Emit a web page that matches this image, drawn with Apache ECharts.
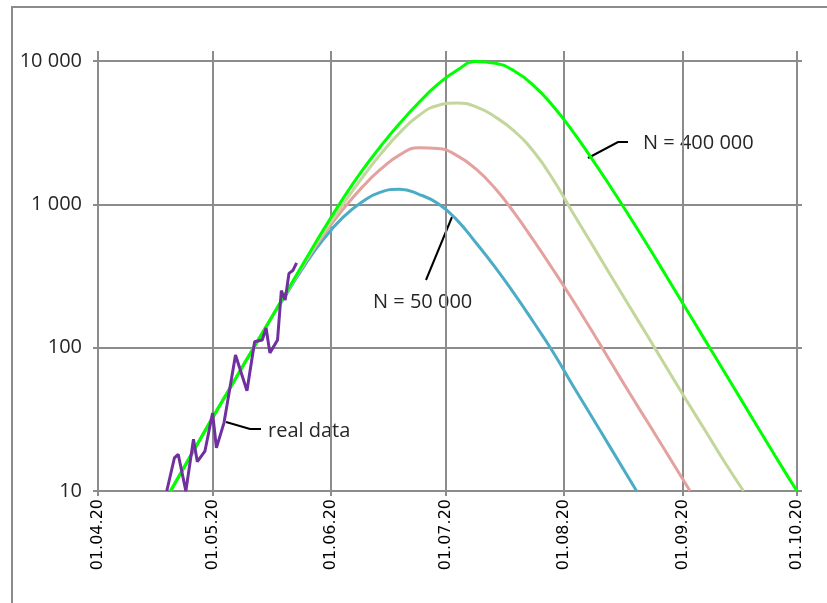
<!DOCTYPE html>
<html>
<head>
<meta charset="utf-8">
<script src="https://cdn.jsdelivr.net/npm/echarts@6/dist/echarts.min.js"></script>
<style>
    html, body { margin: 0; padding: 0; background: #fff; }
    #chart { width: 827px; height: 603px; }
</style>
</head>
<body>
<div id="chart"></div>
<script>
    // model curves, values (every 5 days)
    const greenDates = ['2020-04-20', '2020-04-25', '2020-04-30', '2020-05-05', '2020-05-10', '2020-05-15', '2020-05-20', '2020-05-25', '2020-05-30', '2020-06-04', '2020-06-09', '2020-06-14', '2020-06-19', '2020-06-24', '2020-06-29', '2020-07-04', '2020-07-09', '2020-07-14', '2020-07-19', '2020-07-24', '2020-07-29', '2020-08-03', '2020-08-08', '2020-08-13', '2020-08-18', '2020-08-23', '2020-08-28', '2020-09-02', '2020-09-07', '2020-09-12', '2020-09-17', '2020-09-22', '2020-09-27', '2020-10-01'];
    const greenValues = [10, 17.1, 29.2, 49.3, 83.2, 140, 236, 397, 664, 1084, 1698, 2541, 3673, 5129, 6887, 8610, 9930, 9660, 8510, 6761, 4898, 3311, 2138, 1349, 836, 512, 309, 186, 112, 67.6, 40.7, 24.5, 14.8, 10];

    const paleDates = ['2020-04-20', '2020-04-25', '2020-04-30', '2020-05-05', '2020-05-10', '2020-05-15', '2020-05-20', '2020-05-25', '2020-05-30', '2020-06-04', '2020-06-09', '2020-06-14', '2020-06-19', '2020-06-24', '2020-06-29', '2020-07-04', '2020-07-09', '2020-07-14', '2020-07-19', '2020-07-24', '2020-07-29', '2020-08-03', '2020-08-08', '2020-08-13', '2020-08-18', '2020-08-23', '2020-08-28', '2020-09-02', '2020-09-07', '2020-09-12', '2020-09-17'];
    const paleValues = [10, 17.1, 29.2, 49.3, 83.2, 140, 235, 389, 631, 989, 1514, 2239, 3162, 4169, 4898, 5093, 4786, 4074, 3236, 2344, 1514, 902, 543, 327, 197, 119, 71.6, 43.2, 26.3, 16, 10];

    const pinkDates = ['2020-04-20', '2020-04-25', '2020-04-30', '2020-05-05', '2020-05-10', '2020-05-15', '2020-05-20', '2020-05-25', '2020-05-30', '2020-06-04', '2020-06-09', '2020-06-14', '2020-06-19', '2020-06-24', '2020-06-29', '2020-07-04', '2020-07-09', '2020-07-14', '2020-07-19', '2020-07-24', '2020-07-29', '2020-08-03', '2020-08-08', '2020-08-13', '2020-08-18', '2020-08-23', '2020-08-28', '2020-09-03'];
    const pinkValues = [10, 17.1, 29.2, 49.3, 83.2, 140, 234, 385, 610, 912, 1303, 1758, 2213, 2483, 2455, 2188, 1758, 1288, 871, 562, 355, 221, 135, 81.3, 49, 29.9, 18.2, 10];

    const blueDates = ['2020-04-20', '2020-04-25', '2020-04-30', '2020-05-05', '2020-05-10', '2020-05-15', '2020-05-20', '2020-05-25', '2020-05-30', '2020-06-04', '2020-06-09', '2020-06-14', '2020-06-19', '2020-06-24', '2020-06-29', '2020-07-04', '2020-07-09', '2020-07-14', '2020-07-19', '2020-07-24', '2020-07-29', '2020-08-03', '2020-08-08', '2020-08-13', '2020-08-20'];
    const blueValues = [10, 17.1, 29.2, 49.3, 83.2, 140, 229, 372, 569, 804, 1035, 1216, 1274, 1175, 1012, 776, 537, 363, 237, 151, 94.4, 56.2, 33.9, 20.4, 10];

    // real data (purple)
    const realDates = ['2020-04-19', '2020-04-21', '2020-04-22', '2020-04-24', '2020-04-26', '2020-04-27', '2020-04-29', '2020-05-01', '2020-05-02', '2020-05-04', '2020-05-07', '2020-05-10', '2020-05-12', '2020-05-14', '2020-05-15', '2020-05-16', '2020-05-18', '2020-05-19', '2020-05-20', '2020-05-21', '2020-05-22', '2020-05-23'];
    const realValues = [10, 17, 18, 10, 23, 16, 19, 35, 20, 30, 89, 50, 110, 113, 137, 92, 113, 250, 215, 330, 345, 390];

    const yTicks = [10, 100, 1000, 10000];

    const gridColor = '#8c8c8c';

    function pairs(dates, values) {
        let result = [];
        for (let i = 0; i < dates.length; i++) {
            result.push([dates[i], values[i]]);
        }
        return result;
    }

    function pad(n) {
        return n < 10 ? '0' + n : '' + n;
    }

    // 10000 -> "10 000"
    function spaced(v) {
        return String(Math.round(v)).replace(/\B(?=(\d{3})+(?!\d))/g, ' ');
    }

    let chart = echarts.init(document.getElementById('chart'));
    chart.setOption({
        animation: false,
        grid: {left: 98, right: 30, top: 61, bottom: 112},
        xAxis: [
            {
                type: 'time',
                min: '2020-04-01',
                max: '2020-10-01',
                splitNumber: 6,
                minInterval: 28 * 24 * 3600 * 1000,
                maxInterval: 31 * 24 * 3600 * 1000,
                axisLine: {show: true, lineStyle: {color: gridColor, width: 2}},
                axisTick: {show: true, length: 5, lineStyle: {color: gridColor, width: 2}},
                splitLine: {show: true, lineStyle: {color: gridColor, width: 2}},
                axisLabel: {
                    rotate: 90,
                    margin: 8,
                    showMinLabel: true,
                    showMaxLabel: true,
                    color: '#000',
                    fontFamily: 'DejaVu Sans',
                    fontSize: 16,
                    formatter: function (value) {
                        let d = new Date(value);
                        return pad(d.getDate()) + '.' + pad(d.getMonth() + 1) + '.' + String(d.getFullYear()).slice(2);
                    }
                }
            },
            {
                // only the short tick stubs above the top gridline
                type: 'time',
                position: 'top',
                min: '2020-04-01',
                max: '2020-10-01',
                splitNumber: 6,
                minInterval: 28 * 24 * 3600 * 1000,
                maxInterval: 31 * 24 * 3600 * 1000,
                axisLine: {show: false},
                axisTick: {show: true, length: 10, lineStyle: {color: gridColor, width: 2}},
                splitLine: {show: false},
                axisLabel: {show: false}
            }
        ],
        yAxis: [
            {
                type: 'log',
                logBase: 10,
                min: yTicks[0],
                max: yTicks[yTicks.length - 1],
                axisLine: {show: true, lineStyle: {color: gridColor, width: 2}},
                axisTick: {show: true, length: 5, lineStyle: {color: gridColor, width: 2}},
                splitLine: {show: true, lineStyle: {color: gridColor, width: 2}},
                axisLabel: {
                    margin: 16,
                    color: '#262626',
                    fontFamily: 'Open Sans',
                    fontSize: 20,
                    formatter: spaced
                }
            },
            {
                type: 'log',
                logBase: 10,
                position: 'right',
                min: yTicks[0],
                max: yTicks[yTicks.length - 1],
                axisLine: {show: false},
                axisTick: {show: true, length: 5, lineStyle: {color: gridColor, width: 2}},
                splitLine: {show: false},
                axisLabel: {show: false}
            }
        ],
        series: [
            {
                name: 'N = 50 000',
                type: 'line',
                smooth: 0.5,
                showSymbol: false,
                lineStyle: {color: '#4bacc6', width: 3},
                data: pairs(blueDates, blueValues)
            },
            {
                name: 'N = 100 000',
                type: 'line',
                smooth: 0.5,
                showSymbol: false,
                lineStyle: {color: '#e3a29f', width: 3},
                data: pairs(pinkDates, pinkValues)
            },
            {
                name: 'N = 200 000',
                type: 'line',
                smooth: 0.5,
                showSymbol: false,
                lineStyle: {color: '#c3d69b', width: 3},
                data: pairs(paleDates, paleValues)
            },
            {
                name: 'N = 400 000',
                type: 'line',
                smooth: 0.5,
                showSymbol: false,
                lineStyle: {color: '#00ff00', width: 3},
                data: pairs(greenDates, greenValues)
            },
            {
                name: 'real data',
                type: 'line',
                showSymbol: false,
                lineStyle: {color: '#7030a0', width: 3},
                data: pairs(realDates, realValues)
            }
        ],
        graphic: [
            {
                type: 'rect',
                shape: {x: 12, y: 7, width: 900, height: 700},
                style: {fill: 'none', stroke: gridColor, lineWidth: 2},
                silent: true
            },
            {
                type: 'polyline',
                shape: {points: [[588, 158], [618, 142], [628, 142]]},
                style: {stroke: '#000', lineWidth: 2, fill: 'none'}
            },
            {
                type: 'text',
                x: 643, y: 143,
                style: {text: 'N = 400 000', font: '20px "Open Sans"', fill: '#262626', verticalAlign: 'middle'}
            },
            {
                type: 'polyline',
                shape: {points: [[452, 217], [426, 280]]},
                style: {stroke: '#000', lineWidth: 2, fill: 'none'}
            },
            {
                type: 'text',
                x: 373, y: 302,
                style: {text: 'N = 50 000', font: '20px "Open Sans"', fill: '#262626', verticalAlign: 'middle'}
            },
            {
                type: 'polyline',
                shape: {points: [[226, 422], [250, 429], [261, 429]]},
                style: {stroke: '#000', lineWidth: 2, fill: 'none'}
            },
            {
                type: 'text',
                x: 268, y: 431,
                style: {text: 'real data', font: '20px "Open Sans"', fill: '#262626', verticalAlign: 'middle'}
            }
        ]
    });
</script>
</body>
</html>
